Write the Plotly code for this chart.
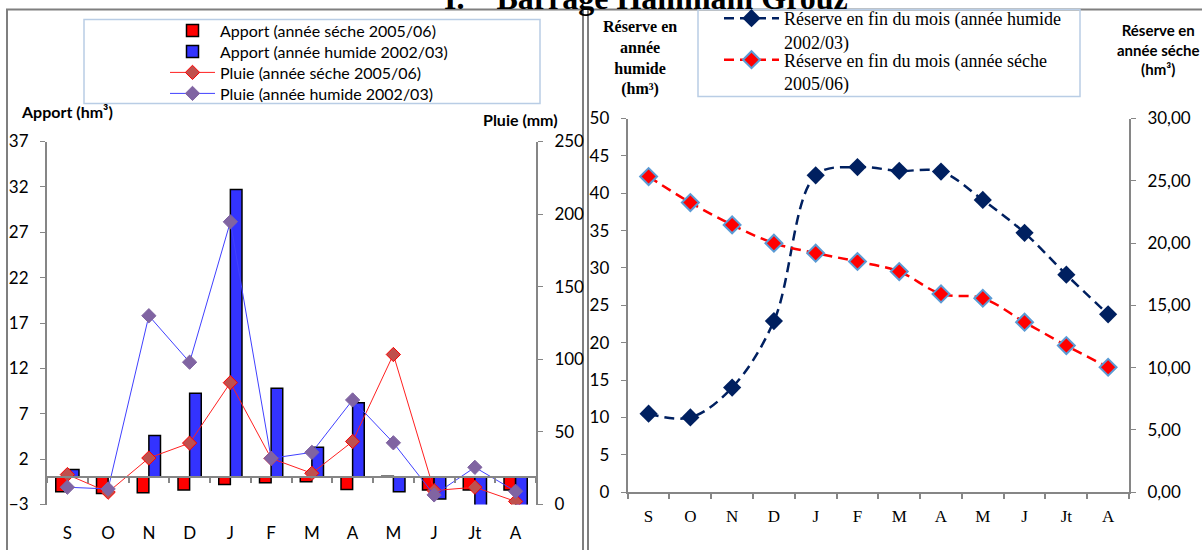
import plotly.graph_objects as go

# months (hydrological year, Sept -> Aug)
mois = ["S", "O", "N", "D", "J", "F", "M", "A", "M", "J", "Jt", "A"]

# Apport (hm3)
apport_seche = [-1.6, -1.8, -1.7, -1.4, -0.8, -0.6, -0.5, -1.35, 0.1, -1.4, -1.4, -1.4]
apport_humide = [0.85, 0.05, 4.6, 9.25, 31.7, 9.8, 3.3, 8.2, -1.6, -2.4, -3.3, -3.3]

# Pluie (mm)
pluie_seche = [20.6, 8.5, 32.0, 42.3, 83.9, 31.8, 21.5, 43.4, 103.3, 9.6, 11.9, 2.1]
pluie_humide = [11.9, 10.7, 130.0, 98.0, 194.7, 31.8, 35.9, 72.0, 42.5, 6.6, 25.6, 9.1]

# Reserve en fin du mois (hm3)
reserve_humide = [10.5, 10.0, 14.0, 22.9, 42.4, 43.5, 43.0, 42.9, 39.1, 34.7, 29.1, 23.8]
reserve_seche = [25.34, 23.25, 21.46, 19.99, 19.19, 18.52, 17.71, 15.92, 15.57, 13.65, 11.77, 10.03]

W, H = 1202, 550
SANS = "Lato"
SERIF = "Liberation Serif"
AXIS_GREY = "#868686"
# vertical calibration (measured on the rendered page)
Y_OFF, Y_SCALE = 10.5, 0.96


def px(x):
    return x / W


def py(y):
    return 1 - (y - Y_OFF) / Y_SCALE / H


xs = list(range(len(mois)))
fig = go.Figure()

# ---- left chart : apports + pluie (one legend per entry to control spacing)
fig.add_trace(go.Bar(x=xs, y=apport_seche, name="Apport (année séche 2005/06)",
                     marker=dict(color="#ff0000", line=dict(color="black", width=1.5)),
                     xaxis="x", yaxis="y", legend="legend"))
fig.add_trace(go.Bar(x=xs, y=apport_humide, name="Apport (année humide 2002/03)",
                     marker=dict(color="#3333ff", line=dict(color="black", width=1.5)),
                     xaxis="x", yaxis="y", legend="legend4"))
fig.add_trace(go.Scatter(x=xs, y=pluie_seche, name="Pluie (année séche 2005/06)",
                         mode="lines+markers", line=dict(color="#ff2020", width=1),
                         marker=dict(symbol="diamond", size=11, color="#c0504d",
                                     line=dict(color="#ff0000", width=1)),
                         xaxis="x", yaxis="y2", legend="legend5"))
fig.add_trace(go.Scatter(x=xs, y=pluie_humide, name="Pluie (année humide 2002/03)",
                         mode="lines+markers", line=dict(color="#4040ff", width=1),
                         marker=dict(symbol="diamond", size=11, color="#8064a2",
                                     line=dict(color="#8064a2", width=1)),
                         xaxis="x", yaxis="y2", legend="legend6"))

# ---- right chart : reserves
fig.add_trace(go.Scatter(x=xs, y=reserve_humide,
                         name="Réserve en fin du mois (année humide<br>2002/03)",
                         mode="lines+markers",
                         line=dict(color="#002060", width=2.5, dash="10px,6px", shape="spline"),
                         marker=dict(symbol="diamond", size=14, color="#002060"),
                         xaxis="x2", yaxis="y3", legend="legend2"))
fig.add_trace(go.Scatter(x=xs, y=reserve_seche,
                         name="Réserve en fin du mois (année séche<br>2005/06)",
                         mode="lines+markers",
                         line=dict(color="#ff0000", width=2.5, dash="10px,6px", shape="spline"),
                         marker=dict(symbol="diamond", size=13, color="#ff0000",
                                     line=dict(color="#5b9bd5", width=2)),
                         xaxis="x2", yaxis="y4", legend="legend3"))

left_dom = [py(503), py(140)]
left_rng = [-3, 37]
zero_pos = left_dom[0] + (0 - left_rng[0]) / (left_rng[1] - left_rng[0]) * (left_dom[1] - left_dom[0])
right_dom = [py(490.7), py(117)]

cat_axis = dict(range=[-0.5, 11.5], tickvals=xs, ticktext=mois, ticks="",
                showline=True, linecolor=AXIS_GREY, linewidth=2, showgrid=False, zeroline=False,
                minor=dict(tick0=0.5, dtick=1, ticks="outside", ticklen=5,
                           tickcolor=AXIS_GREY, tickwidth=1.5, showgrid=False))

val_axis = dict(showline=True, linecolor=AXIS_GREY, linewidth=2, ticks="outside",
                ticklen=5, tickcolor=AXIS_GREY, showgrid=False, zeroline=False,
                ticklabelstandoff=8)

left_legend = dict(x=px(165), xanchor="left", yanchor="top", bgcolor="rgba(0,0,0,0)",
                   borderwidth=0, font=dict(family=SANS, size=16), itemwidth=45)
right_legend = dict(x=px(719), xanchor="left", yanchor="top", bgcolor="rgba(0,0,0,0)",
                    borderwidth=0, valign="top", font=dict(family=SERIF, size=18), itemwidth=55)

fig.update_layout(
    width=W, height=H,
    margin=dict(l=0, r=0, t=0, b=0),
    paper_bgcolor="white", plot_bgcolor="white",
    separators=", ",
    showlegend=True,
    barmode="group", bargap=0.43, bargroupgap=0,
    font=dict(family=SANS, size=16, color="black"),
    xaxis=dict(cat_axis, domain=[px(47), px(536)], anchor="free", position=zero_pos,
               ticklabelstandoff=40, tickfont=dict(family=SANS, size=17)),
    yaxis=dict(val_axis, domain=left_dom, range=left_rng, tick0=-3, dtick=5,
               tickfont=dict(family=SANS, size=17)),
    yaxis2=dict(val_axis, domain=left_dom, range=[0, 250], dtick=50, overlaying="y",
                side="right", anchor="x", tickfont=dict(family=SANS, size=17)),
    xaxis2=dict(cat_axis, domain=[px(627.7), px(1129)], anchor="y3",
                ticklabelstandoff=7, tickfont=dict(family=SERIF, size=17)),
    yaxis3=dict(val_axis, domain=right_dom, range=[0, 50], dtick=5, anchor="x2",
                tickfont=dict(family=SANS, size=17)),
    yaxis4=dict(val_axis, domain=right_dom, range=[0, 30], dtick=5,
                tickformat=".2f", overlaying="y3", side="right", anchor="x2",
                tickfont=dict(family=SANS, size=17)),
    legend=dict(left_legend, y=py(12)),
    legend4=dict(left_legend, y=py(33)),
    legend5=dict(left_legend, y=py(54)),
    legend6=dict(left_legend, y=py(75)),
    legend2=dict(right_legend, y=py(-2)),
    legend3=dict(right_legend, y=py(40)),
)

# panel frames and legend frames
shapes = [
    dict(x0=px(7), x1=px(583), y0=py(600), y1=py(8), line=dict(color="#7f7f7f", width=2)),
    dict(x0=px(588), x1=px(1260), y0=py(600), y1=py(8), line=dict(color="#7f7f7f", width=2)),
    dict(x0=px(84), x1=px(540), y0=py(102), y1=py(18), line=dict(color="#b9cde5", width=1.5)),
    dict(x0=px(698), x1=px(1080), y0=py(95), y1=py(8), line=dict(color="#b9cde5", width=1.5)),
]
for s in shapes:
    fig.add_shape(type="rect", xref="paper", yref="paper", layer="below", **s)

notes = [
    dict(text="<b>I.\u00a0\u00a0\u00a0\u00a0Barrage Hammam Grouz</b>", x=px(646), y=py(-4),
         font=dict(family=SERIF, size=32)),
    dict(text="<b>Apport (hm³)</b>", x=px(67), y=py(110), font=dict(family=SANS, size=16)),
    dict(text="<b>Pluie (mm)</b>", x=px(520), y=py(118), font=dict(family=SANS, size=16)),
    dict(text="<b>Réserve en<br>année<br>humide<br>(hm³)</b>", x=px(640), y=py(56),
         font=dict(family=SERIF, size=16)),
    dict(text="<b>Réserve en<br>année séche<br>(hm³)</b>", x=px(1158), y=py(48),
         font=dict(family=SANS, size=15)),
]
for n in notes:
    fig.add_annotation(xref="paper", yref="paper", xanchor="center", yanchor="middle",
                       showarrow=False, **n)

fig.write_html("out.html", config={"displayModeBar": False},
               post_script="document.body.style.margin='0';")
